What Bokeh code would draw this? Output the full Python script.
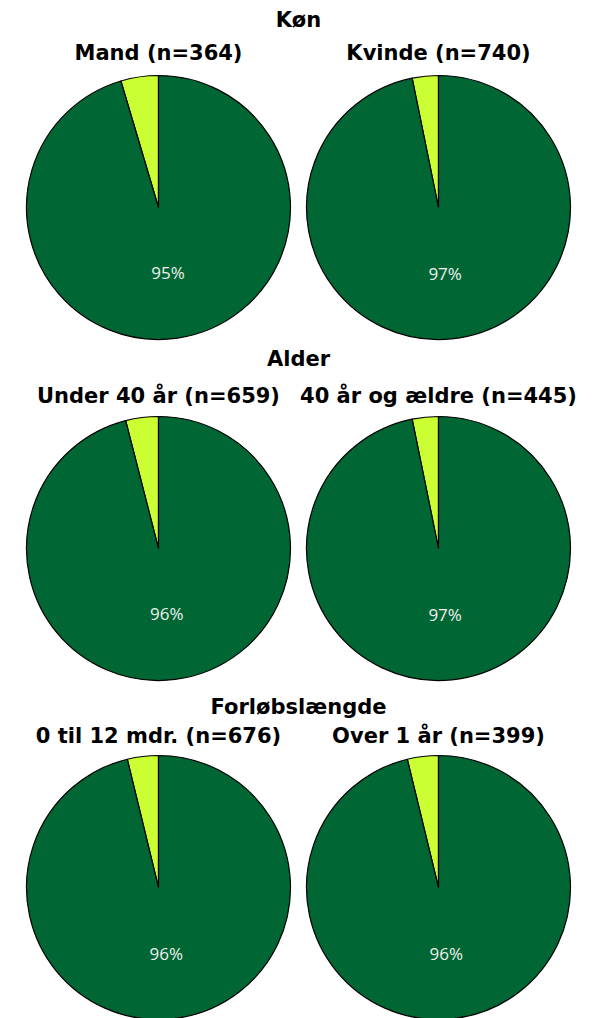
import numpy as np
from bokeh.plotting import figure
from bokeh.models import Range1d, ColumnDataSource
from bokeh.core.properties import value
from bokeh.embed import file_html
from bokeh.resources import INLINE

# ---- data ----
group_titles = ["Køn", "Alder", "Forløbslængde"]
pie_titles = ["Mand (n=364)", "Kvinde (n=740)",
              "Under 40 år (n=659)", "40 år og ældre (n=445)",
              "0 til 12 mdr. (n=676)", "Over 1 år (n=399)"]
share_main = [95.4, 96.8, 96.0, 96.8, 96.2, 96.2]   # dark green slice (%)
share_rest = [4.6, 3.2, 4.0, 3.2, 3.8, 3.8]         # light slice (%)

colors = ["#006633", "#CCFF33"]

W, H = 593, 1018
p = figure(width=W, height=H, x_range=Range1d(0, W), y_range=Range1d(0, H),
           output_backend="svg", toolbar_location=None, min_border=0)
p.axis.visible = False
p.grid.visible = False
p.outline_line_color = None
p.background_fill_color = "white"

col_x = [158, 438]
row_y = [811, 470, 131]
R = 132
group_title_y = [999, 660, 312]
pie_title_y = [966, 623, 283]

xs, ys, sa, ea, fc = [], [], [], [], []
lx, ly, lt = [], [], []
ptx, pty = [], []
for i in range(6):
    r, c = divmod(i, 2)
    cx, cy = col_x[c], row_y[r]
    total = share_main[i] + share_rest[i]
    theta = share_rest[i] / total * 2 * np.pi
    start = np.pi / 2
    xs.append(cx); ys.append(cy); sa.append(start); ea.append(start + theta); fc.append(colors[1])
    xs.append(cx); ys.append(cy); sa.append(start + theta); ea.append(start + 2 * np.pi); fc.append(colors[0])
    mid = start + theta + (2 * np.pi - theta) / 2
    lx.append(cx + 0.5 * R * np.cos(mid)); ly.append(cy + 0.5 * R * np.sin(mid))
    lt.append(f"{round(share_main[i])}%")
    ptx.append(cx); pty.append(pie_title_y[r])

src = ColumnDataSource(dict(x=xs, y=ys, sa=sa, ea=ea, fc=fc))
p.wedge(x="x", y="y", radius=R, start_angle="sa", end_angle="ea", direction="anticlock",
        fill_color="fc", line_color="black", line_width=1.2, source=src)

p.text(x=lx, y=ly, text=lt, text_color="#F0F0F0", text_font=value("Open Sans"),
       text_font_size="17px", text_align="center", text_baseline="middle")

p.text(x=ptx, y=pty, text=pie_titles, text_color="black", text_font=value("DejaVu Sans"),
       text_font_style="bold", text_font_size="21px", text_align="center", text_baseline="middle")

p.text(x=[(col_x[0] + col_x[1]) / 2] * 3, y=group_title_y, text=group_titles, text_color="black",
       text_font=value("DejaVu Sans"), text_font_style="bold", text_font_size="21px",
       text_align="center", text_baseline="middle")

open("out.html", "w").write(file_html(p, INLINE))
